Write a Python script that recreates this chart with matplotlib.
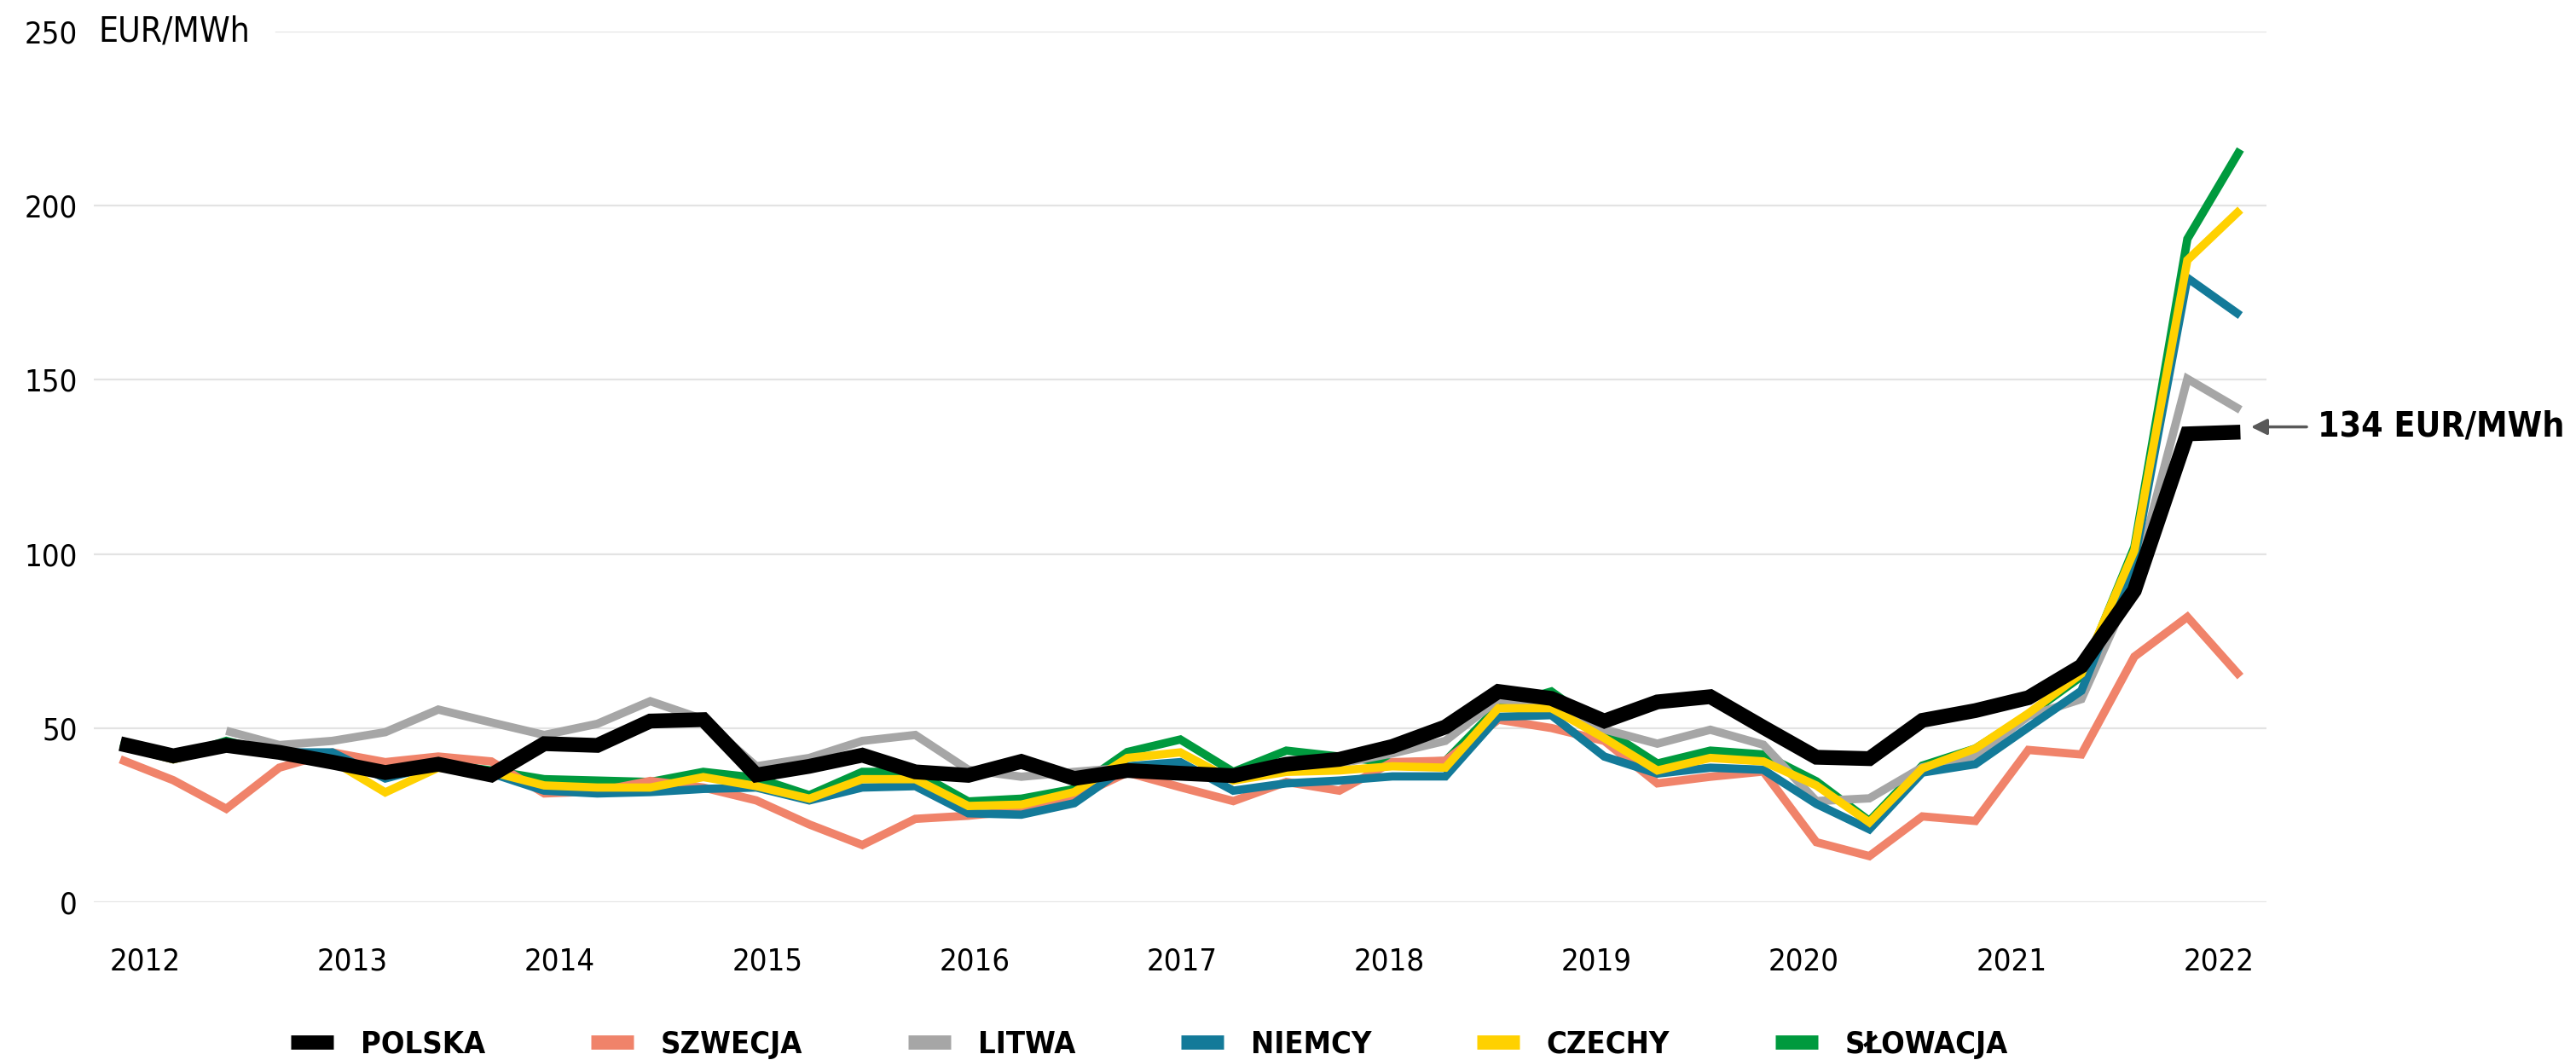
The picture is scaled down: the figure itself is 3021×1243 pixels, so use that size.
import numpy as np
import matplotlib
matplotlib.use("Agg")
import matplotlib.pyplot as plt
from matplotlib.lines import Line2D
from matplotlib import font_manager as fm

# ---- data: quarterly 2012Q1 .. 2022Q1 (EUR/MWh) ----
years = ["2012", "2013", "2014", "2015", "2016", "2017", "2018", "2019", "2020", "2021", "2022"]

polska = [45.5, 42, 45, 43, 40.2, 37.2, 39.6, 36.5, 45.5, 45, 52, 52.4, 36.5, 39, 42.2, 37.4,
          36.4, 40.4, 35.5, 37.8, 37, 36.3, 39.6, 41, 44.7, 50.3, 60.5, 58.5, 52, 57.5, 59,
          50.2, 41.6, 41.2, 52.2, 55, 58.7, 67.8, 89.5, 134.5, 135]
szwecja = [41, 35, 26.8, 38.6, 43, 40.2, 41.8, 40.4, 31.2, 31.8, 34.8, 32.9, 29.2, 22.3, 16.4, 23.9,
           24.8, 26.3, 30, 37.2, 33, 29, 34.5, 32, 40.2, 40.6, 52.4, 50, 46.3, 34.1, 36,
           37.5, 17.2, 13.2, 24.6, 23.3, 43.7, 42.4, 70.5, 81.9, 64.8]
litwa = [np.nan, np.nan, 49.2, 45.1, 46.3, 48.8, 55.3, 51.6, 48, 51.2, 57.7, 52.5, 39, 41.4, 46.3, 48,
         38, 36, 37.4, 38.6, 38, 35.5, 38.2, 39.8, 42.7, 46.3, 58.2, 56.9, 49.6, 45.5, 49.5,
         45.2, 29, 29.8, 38.7, 42, 53.4, 58.3, 92, 150.3, 141.4]
niemcy = [45, 41, 45, 43, 43, 35.5, 39.5, 37, 32, 31.2, 31.6, 32.5, 32.9, 29.2, 32.9, 33.3,
          25.5, 25.1, 28.4, 39, 40.2, 32, 34.1, 34.9, 36.1, 36.1, 53.2, 53.7, 41.8, 36.9, 38.6,
          38, 28.2, 20.9, 37.2, 39.6, 50.2, 60.7, 98, 179.3, 168.5]
czechy = [45, 41, 44.7, 42.3, 40.6, 31.5, 38.6, 37.4, 33.5, 32.9, 32.9, 35.9, 33.3, 29.7, 35.3, 35.3,
          27.6, 28, 31.6, 41.4, 43, 34.9, 37.4, 37.8, 39, 38.6, 55.7, 55.7, 47.1, 37.8, 41.4,
          40.4, 33.5, 22.9, 38.4, 44.1, 54.2, 65.6, 101, 184.4, 198.9]
slowacja = [45.5, 41.5, 46.3, 42.5, 40.5, 36.5, 39.8, 37.8, 35.3, 34.9, 34.5, 37.4, 35.7, 30.7, 37.4, 37.4,
            28.9, 29.7, 32.5, 43.1, 46.7, 37.4, 43.5, 41.8, 40, 40.5, 56.1, 60.5, 49.6, 39.8, 43.5,
            42.4, 34.7, 23.3, 39.2, 44.1, 53.8, 64.8, 102, 190.5, 216.2]

names = ["POLSKA", "SZWECJA", "LITWA", "NIEMCY", "CZECHY", "SŁOWACJA"]
colors = {"POLSKA": "#000000", "SZWECJA": "#F0836A", "LITWA": "#A6A6A6",
          "NIEMCY": "#137A99", "CZECHY": "#FFD100", "SŁOWACJA": "#009A3E"}
series = {"POLSKA": polska, "SZWECJA": szwecja, "LITWA": litwa,
          "NIEMCY": niemcy, "CZECHY": czechy, "SŁOWACJA": slowacja}

plt.rcParams['font.family'] = ['DejaVu Sans']

# use the condensed DejaVu face if it is installed (closer to the original's narrow font)
cond_file = fm.findfont(fm.FontProperties(family='DejaVu Sans', stretch='condensed'))
has_cond = 'ondensed' in cond_file
stretch = 'condensed' if has_cond else 'normal'
k = 1.11 if has_cond else 1.0

fig = plt.figure(figsize=(30.21, 12.43), dpi=100)
ax = fig.add_axes([0.0364, 0.149, 0.8436, 0.821])

x = np.arange(len(polska))

draw_order = ["SŁOWACJA", "SZWECJA", "LITWA", "NIEMCY", "CZECHY", "POLSKA"]
for z, n in enumerate(draw_order):
    lw = 12.5 if n == "POLSKA" else 7
    ax.plot(x, series[n], color=colors[n], lw=lw, zorder=3 + z,
            solid_joinstyle='miter', solid_capstyle='butt')

ax.set_xlim(-0.5, 40.5)
ax.set_ylim(0, 250)

yt = [0, 50, 100, 150, 200, 250]
for v in yt:
    xmin = 0.084 if v == 250 else 0.0
    ax.axhline(v, xmin=xmin, xmax=1, color="#E3E3E3", lw=1.6, zorder=1)

tick_fs = 23.5 * k
ax.set_yticks(yt)
ax.set_yticklabels([str(v) for v in yt], fontstretch=stretch)
ax.tick_params(axis='y', length=0, pad=14, labelsize=tick_fs)
ax.text(0.002, 250, "EUR/MWh", transform=ax.get_yaxis_transform(),
        ha='left', va='center', fontsize=tick_fs * 1.12, fontstretch=stretch)

tick_pos = 0.47 + 3.912 * np.arange(len(years))
ax.set_xticks(tick_pos)
ax.set_xticklabels(years, fontstretch=stretch)
ax.tick_params(axis='x', length=0, pad=38, labelsize=tick_fs)

for s in ax.spines.values():
    s.set_visible(False)

ax.annotate("", xy=(40.2, 136.5), xytext=(41.25, 136.5),
            arrowprops=dict(arrowstyle="-|>", color="#595959", lw=2.5,
                            mutation_scale=28, shrinkA=0, shrinkB=0),
            annotation_clip=False)
ax.text(41.45, 136.5, "134 EUR/MWh", ha='left', va='center', fontsize=26.5 * k,
        fontweight='bold', fontstretch=stretch, clip_on=False)

handles = [Line2D([0], [0], color=colors[n], lw=12, solid_capstyle='butt') for n in names]
leg_fs = 23.4 * k
leg = fig.legend(handles, names, loc='center', bbox_to_anchor=(0.4462, 0.0145), ncol=6,
                 frameon=False,
                 prop=fm.FontProperties(family='DejaVu Sans', weight='bold', size=leg_fs,
                                        stretch=stretch),
                 handlelength=36 / leg_fs, handletextpad=23 / leg_fs,
                 columnspacing=89 / leg_fs)

fig.savefig("out.png", dpi=100)
